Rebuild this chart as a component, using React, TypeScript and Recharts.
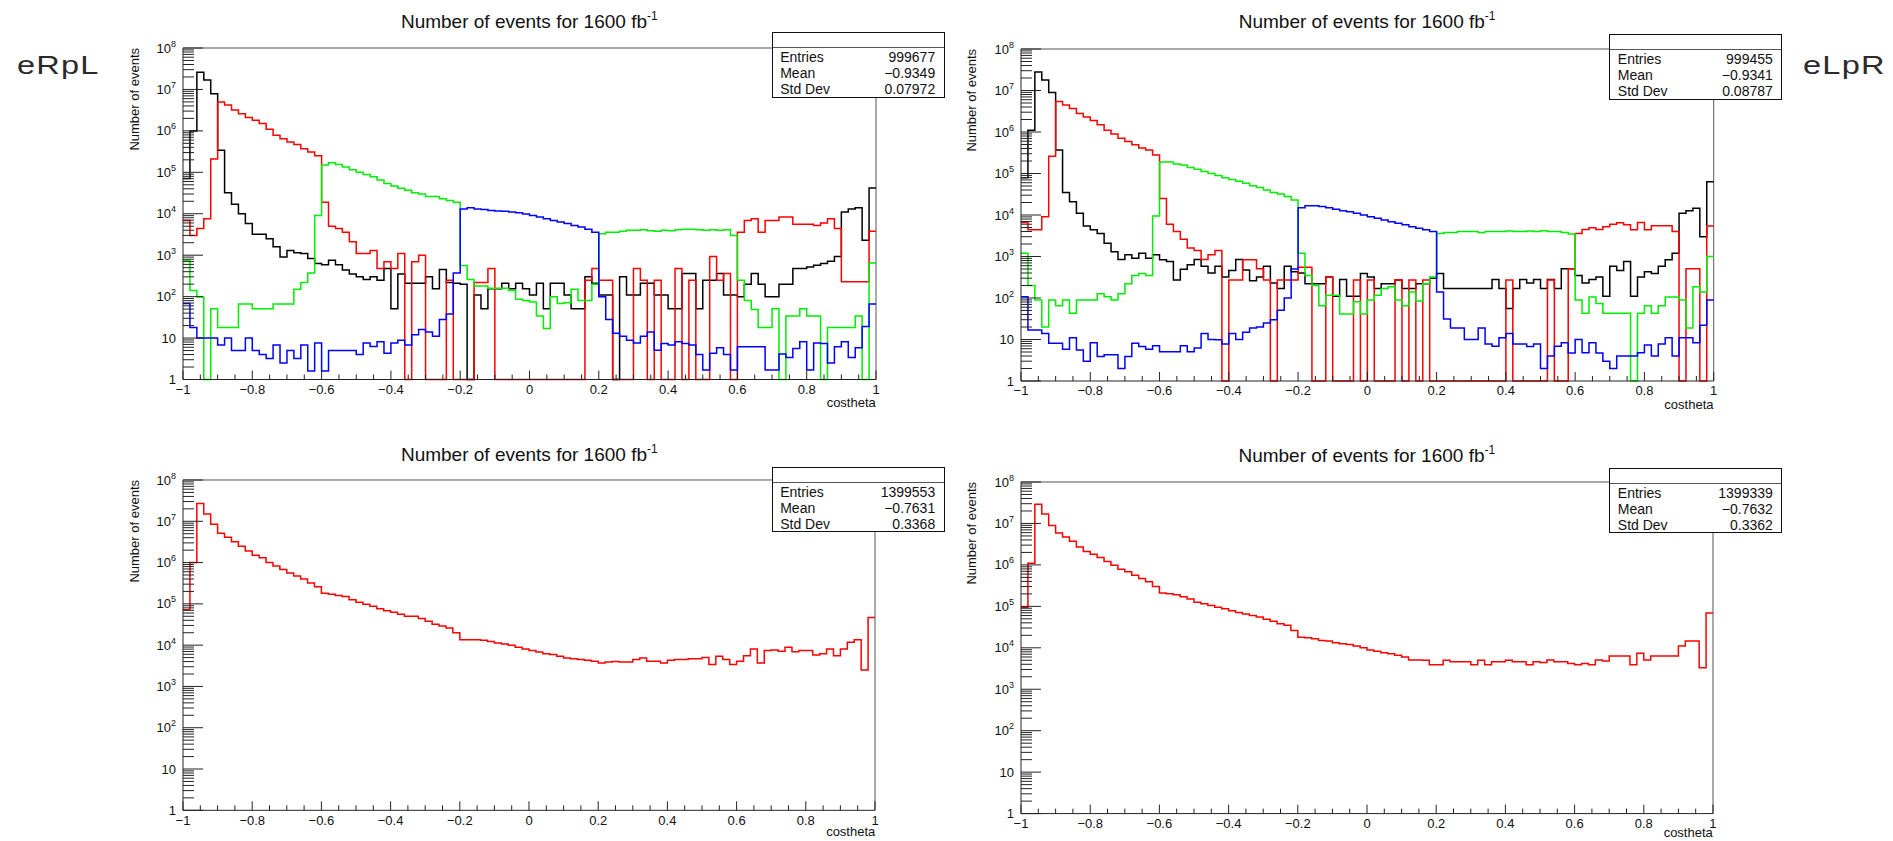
import { LineChart, Line, XAxis, YAxis, ReferenceLine } from "recharts";

// histogram definition: 100 bins on [-1, 1]
const NBINS = 100;
const X_MIN = -1;
const X_MAX = 1;

const xMajorTicks = [-1, -0.8, -0.6, -0.4, -0.2, 0, 0.2, 0.4, 0.6, 0.8, 1];
const yDecades = [0, 1, 2, 3, 4, 5, 6, 7, 8];
const yMinorMantissas = [2, 3, 4, 5, 6, 7, 8, 9];

const titleText = "Number of events for 1600 fb";
const titleSup = "-1";
const yTitle = "Number of events";
const xTitle = "costheta";
const statLabels = ["Entries", "Mean", "Std Dev"];

const tlStats = ["999677", "\u22120.9349", "0.07972"];
const trStats = ["999455", "\u22120.9341", "0.08787"];
const blStats = ["1399553", "\u22120.7631", "0.3368"];
const brStats = ["1399339", "\u22120.7632", "0.3362"];

// eRpL, all processes
const tlBlack = [
  71000, 1000000, 26000000, 17000000, 7900000, 340000, 32000, 17000, 10000, 5800,
  3200, 3200, 2500, 1600, 910, 1300, 1150, 1100, 830, 630,
  590, 760, 590, 440, 350, 300, 260, 300, 250, 480,
  51, 350, 210, 210, 210, 300, 155, 450, 220, 210,
  200, 0, 110, 51, 155, 155, 210, 155, 210, 155,
  110, 210, 51, 210, 210, 110, 51, 51, 300, 210,
  110, 110, 0, 300, 110, 110, 210, 210, 110, 110,
  51, 51, 360, 360, 51, 250, 250, 360, 110, 110,
  100, 200, 360, 200, 100, 100, 200, 200, 480, 480,
  520, 570, 630, 710, 930, 11000, 13000, 14000, 2300, 42000,
];
const tlRed = [
  6900, 3000, 4400, 7600, 210000, 5000000, 4200000, 3200000, 2600000, 2100000,
  1800000, 1500000, 1100000, 780000, 650000, 540000, 470000, 370000, 310000, 250000,
  19000, 5000, 4400, 3600, 2100, 1100, 1100, 1300, 480, 690,
  480, 1100, 0, 690, 1000, 0, 0, 0, 250, 0,
  0, 0, 220, 220, 480, 0, 0, 0, 0, 0,
  0, 0, 0, 0, 0, 0, 0, 0, 250, 480,
  250, 250, 0, 0, 0, 480, 250, 0, 250, 0,
  0, 480, 0, 250, 0, 0, 930, 250, 360, 0,
  3600, 6900, 7600, 3600, 6900, 6900, 8300, 8300, 5600, 5600,
  5600, 5200, 6000, 7600, 4400, 230, 230, 230, 230, 3800,
];
const tlGreen = [
  760, 140, 98, 0, 51, 18, 18, 18, 66, 66,
  51, 51, 51, 66, 66, 66, 150, 220, 370, 9100,
  150000, 170000, 155000, 135000, 115000, 100000, 89000, 78000, 65000, 54000,
  47000, 41000, 37000, 32000, 30000, 26000, 26000, 23000, 21000, 19000,
  560, 260, 180, 180, 160, 160, 160, 140, 87, 81,
  74, 34, 17, 100, 68, 71, 150, 81, 81, 200,
  3300, 3600, 3600, 3800, 4000, 4000, 4100, 3900, 3800, 4000,
  3900, 4100, 4200, 4200, 4100, 4000, 4100, 4000, 4100, 3000,
  250, 81, 49, 18, 18, 51, 0, 34, 34, 51,
  34, 34, 0, 18, 18, 18, 18, 34, 0, 650,
];
const tlBlue = [
  68, 18, 10, 10, 10, 6.8, 10, 5, 5, 10,
  5, 4, 3.2, 6.8, 2.5, 5, 3.2, 6.8, 1.6, 7.6,
  1.6, 5, 5, 5, 5, 4, 7.6, 6.3, 8.1, 4.3,
  7.6, 8.9, 6.8, 12, 16, 14, 11, 28, 38, 370,
  13000, 14000, 13000, 12600, 12000, 11700, 11500, 11000, 10500, 9800,
  9100, 8300, 7600, 6900, 6300, 5800, 5200, 4800, 4200, 3600,
  100, 28, 13, 11, 8.9, 7.6, 11, 14, 5.1, 7.4,
  6.8, 8.1, 7.4, 6.8, 4, 1.7, 4.3, 5.8, 4, 1.7,
  6.2, 6.2, 6.2, 6.2, 1.7, 1.7, 4.1, 3.4, 5.6, 8.1,
  1.7, 7.6, 7.4, 2.5, 6.2, 8.1, 3.4, 5.8, 19, 66,
];

// eLpR, all processes
const trBlack = [
  79000, 1100000, 28000000, 18000000, 8900000, 370000, 35000, 21000, 11000, 5400,
  4400, 3600, 2100, 1300, 850, 1100, 910, 1200, 910, 1100,
  830, 760, 270, 490, 630, 850, 580, 400, 580, 320,
  460, 850, 470, 260, 320, 580, 230, 170, 580, 430,
  400, 220, 220, 220, 320, 110, 280, 110, 110, 390,
  320, 170, 220, 220, 270, 170, 170, 220, 220, 300,
  390, 170, 170, 170, 170, 170, 170, 170, 280, 170,
  56, 170, 280, 230, 280, 170, 280, 170, 510, 510,
  350, 230, 280, 320, 110, 580, 460, 760, 110, 320,
  430, 390, 580, 830, 1200, 11000, 12600, 14500, 3000, 63000,
];
const trRed = [
  6600, 4400, 4400, 9100, 260000, 5400000, 4500000, 3700000, 2800000, 2300000,
  1900000, 1500000, 1100000, 890000, 710000, 590000, 490000, 410000, 370000, 280000,
  25000, 6000, 4000, 2600, 1600, 1400, 850, 1100, 1400, 0,
  270, 270, 830, 830, 510, 270, 0, 270, 270, 270,
  550, 550, 0, 0, 320, 0, 0, 0, 270, 0,
  270, 0, 0, 0, 270, 0, 270, 0, 270, 0,
  0, 0, 0, 0, 0, 0, 0, 0, 0, 0,
  270, 0, 0, 0, 0, 0, 270, 0, 0, 510,
  3600, 4500, 4900, 4500, 5200, 6000, 6500, 5800, 4400, 6600,
  4400, 5500, 5500, 5500, 4000, 0, 510, 510, 0, 5400,
];
const trGreen = [
  1200, 200, 89, 20, 89, 65, 89, 43, 89, 89,
  89, 126, 107, 89, 126, 220, 350, 390, 350, 9500,
  190000, 190000, 170000, 160000, 140000, 126000, 112000, 100000, 89000, 79000,
  72000, 65000, 58000, 51000, 46000, 40000, 35000, 32000, 28000, 23000,
  1200, 350, 200, 65, 117, 117, 41, 41, 81, 41,
  89, 117, 170, 186, 89, 65, 140, 85, 220, 320,
  3600, 3800, 3800, 4000, 4000, 4000, 3800, 4000, 4000, 4000,
  4100, 4000, 4000, 4100, 4000, 4200, 4000, 4000, 3800, 3500,
  89, 43, 105, 74, 43, 43, 43, 43, 0, 43,
  65, 43, 65, 105, 105, 89, 19, 186, 140, 1000,
];
const trBlue = [
  107, 17, 17, 14, 8.1, 8.1, 5.8, 11, 5.6, 3,
  8.3, 3.9, 4.3, 4.3, 2, 3.9, 8.1, 6.8, 5.8, 7.1,
  5.1, 5.1, 5.1, 7.1, 5.1, 6.2, 14, 10, 9.8, 7.8,
  14, 10, 15, 19, 20, 25, 30, 51, 100, 500,
  15000, 16600, 16600, 16000, 15000, 13800, 12600, 12000, 11000, 10000,
  9100, 8300, 7600, 6900, 6300, 5800, 5200, 4800, 4400, 4000,
  140, 31, 19, 19, 10, 10, 19, 7.8, 6.9, 11,
  14, 7.8, 7.8, 6.8, 7.8, 2, 4, 6.9, 8.3, 4.7,
  10, 4.8, 8.3, 4.7, 3, 2, 4, 4, 4, 4.8,
  7.4, 4, 7.8, 11, 4, 11, 11, 8.3, 22, 89,
];

// summed samples
const blRed = [
  72000, 1000000, 27000000, 15000000, 8500000, 5100000, 4100000, 3200000, 2500000, 1900000,
  1500000, 1300000, 1000000, 830000, 680000, 560000, 470000, 400000, 320000, 260000,
  180000, 170000, 160000, 150000, 126000, 110000, 98000, 87000, 76000, 68000,
  63000, 56000, 50000, 50000, 44000, 38000, 32000, 29000, 26000, 20000,
  13500, 13500, 13500, 13200, 12300, 11200, 10700, 10000, 8900, 8100,
  7400, 6800, 6200, 5900, 5400, 4900, 4700, 4500, 4300, 4100,
  3700, 3900, 4000, 3900, 3900, 4500, 4900, 4100, 4100, 3700,
  4300, 4500, 4500, 4700, 4700, 5000, 3400, 5400, 4500, 3400,
  4100, 5500, 8100, 3700, 7400, 7600, 7100, 8900, 6900, 7400,
  7400, 5800, 6200, 8100, 5500, 8100, 11700, 13500, 2500, 47000,
];
const brRed = [
  95000, 1100000, 29000000, 17000000, 8900000, 5900000, 4700000, 3700000, 2700000, 2100000,
  1800000, 1500000, 1200000, 980000, 780000, 680000, 560000, 470000, 390000, 300000,
  210000, 200000, 190000, 170000, 150000, 126000, 115000, 105000, 95000, 87000,
  78000, 71000, 65000, 60000, 55000, 49000, 44000, 38000, 35000, 26000,
  18000, 17400, 16600, 15000, 14500, 13200, 12600, 12000, 11000, 10000,
  8900, 8300, 7600, 7200, 6600, 6000, 5100, 5100, 5000, 3900,
  3900, 5000, 4600, 4600, 4600, 3900, 5000, 3900, 4600, 4600,
  5000, 4600, 4600, 3900, 4600, 4400, 5100, 4600, 4600, 4200,
  3900, 4200, 3900, 5100, 4800, 6300, 6300, 6300, 3900, 7400,
  5100, 6300, 6300, 6300, 6300, 11000, 14500, 14500, 3300, 69000,
];

const FONT = "'Liberation Sans', Arial, Helvetica, sans-serif";
const TEXT = "#111";
const AXIS = "#222";
const FRAME = "#555";

const xTicks: number[] = [];
for (let i = 0; i <= 40; i++) xTicks.push((-100 + 5 * i) / 100);

const yTicks: number[] = [];
yDecades.forEach((d) => {
  yTicks.push(10 ** d);
  if (d < 8) yMinorMantissas.forEach((m) => yTicks.push(m * 10 ** d));
});

// one point per bin edge, last bin repeated so stepAfter closes it;
// empty bins sit on the floor of the log axis like ROOT draws them
function buildRows(series: { key: string; values: number[] }[]) {
  const rows: Record<string, number>[] = [];
  for (let i = 0; i <= NBINS; i++) {
    const row: Record<string, number> = { x: X_MIN + (i * (X_MAX - X_MIN)) / NBINS };
    series.forEach((s) => {
      const v = s.values[Math.min(i, NBINS - 1)];
      row[s.key] = v > 0 ? v : 1;
    });
    rows.push(row);
  }
  return rows;
}

function fmtX(v: number) {
  const r = Math.round(v * 10) / 10;
  if (r === 0) return "0";
  return (r < 0 ? "\u2212" : "") + String(Math.abs(r));
}

function XTick(props: any) {
  const { x, y, payload } = props;
  const v = payload.value;
  const major = xMajorTicks.some((t) => Math.abs(t - v) < 1e-6);
  return (
    <g>
      <line x1={x} x2={x} y1={y} y2={y - (major ? 9 : 5)} stroke={AXIS} strokeWidth={1} />
      {major && (
        <text x={x} y={y + 14.5} textAnchor="middle" fontSize={13} fill={TEXT} fontFamily={FONT}>
          {fmtX(v)}
        </text>
      )}
    </g>
  );
}

function YTick(props: any) {
  const { x, y, payload } = props;
  const lg = Math.log10(payload.value);
  const e = Math.round(lg);
  const major = Math.abs(lg - e) < 1e-9;
  return (
    <g>
      <line x1={x} x2={x + (major ? 20 : 11)} y1={y} y2={y} stroke={AXIS} strokeWidth={1} />
      {major && (
        <text x={x - 7} y={y + 4.6} textAnchor="end" fontSize={13} fill={TEXT} fontFamily={FONT}>
          {e === 0 ? "1" : "10"}
          {e > 1 && (
            <tspan dy={-6} fontSize={9}>
              {e}
            </tspan>
          )}
        </text>
      )}
    </g>
  );
}

type PanelProps = {
  plotLeft: number;
  plotTop: number;
  plotW: number;
  plotH: number;
  series: { key: string; values: number[]; color: string }[];
  stats: string[];
  boxLeft: number;
  boxTop: number;
  boxH: number;
  titleTop: number;
  yTitleLeft: number;
  xTitleTop: number;
};

function Panel(p: PanelProps) {
  const rows = buildRows(p.series);
  const yAxisW = 60;
  const mTop = 10;
  const mRight = 10;
  const xAxisH = 40;
  const plotRight = p.plotLeft + p.plotW;

  return (
    <>
      <div style={{ position: "absolute", left: p.plotLeft - yAxisW, top: p.plotTop - mTop }}>
        <LineChart
          width={yAxisW + p.plotW + mRight}
          height={mTop + p.plotH + xAxisH}
          data={rows}
          margin={{ top: mTop, right: mRight, bottom: 0, left: 0 }}
        >
          <XAxis
            dataKey="x"
            type="number"
            domain={[X_MIN, X_MAX]}
            ticks={xTicks}
            interval={0}
            tickLine={false}
            tickSize={0}
            tickMargin={0}
            axisLine={{ stroke: AXIS, strokeWidth: 1 }}
            tick={XTick}
            height={xAxisH}
          />
          <YAxis
            type="number"
            scale="log"
            domain={[1, 1e8]}
            ticks={yTicks}
            interval={0}
            tickLine={false}
            tickSize={0}
            tickMargin={0}
            axisLine={{ stroke: AXIS, strokeWidth: 1 }}
            tick={YTick}
            width={yAxisW}
          />
          <ReferenceLine y={1e8} stroke={FRAME} strokeWidth={1} />
          <ReferenceLine x={X_MAX} stroke={FRAME} strokeWidth={1} />
          {p.series.map((s) => (
            <Line
              key={s.key}
              dataKey={s.key}
              type="stepAfter"
              stroke={s.color}
              strokeWidth={1.5}
              dot={false}
              activeDot={false}
              isAnimationActive={false}
            />
          ))}
        </LineChart>
      </div>

      <div
        style={{
          position: "absolute",
          left: p.plotLeft,
          width: p.plotW,
          top: p.titleTop,
          textAlign: "center",
          fontSize: 19,
          lineHeight: "22px",
          color: TEXT,
          whiteSpace: "nowrap",
        }}
      >
        {titleText}
        <span style={{ fontSize: 12, position: "relative", top: -8 }}>{titleSup}</span>
      </div>

      <div
        style={{
          position: "absolute",
          left: p.yTitleLeft - 200,
          top: p.plotTop,
          width: 200,
          height: 14,
          lineHeight: "14px",
          fontSize: 13,
          color: TEXT,
          textAlign: "right",
          whiteSpace: "nowrap",
          transform: "rotate(-90deg)",
          transformOrigin: "right top",
        }}
      >
        {yTitle}
      </div>

      <div
        style={{
          position: "absolute",
          left: plotRight - 120,
          width: 120,
          top: p.xTitleTop,
          textAlign: "right",
          fontSize: 13,
          lineHeight: "15px",
          color: TEXT,
        }}
      >
        {xTitle}
      </div>

      <div
        style={{
          position: "absolute",
          left: p.boxLeft,
          top: p.boxTop,
          width: 173,
          height: p.boxH,
          border: "1.5px solid #111",
          background: "#fff",
          boxSizing: "border-box",
          fontSize: 14,
          color: TEXT,
        }}
      >
        <div style={{ height: 14, borderBottom: "1px solid #555" }} />
        <div style={{ padding: "1px 8.5px 0 7.5px" }}>
          {statLabels.map((l, i) => (
            <div
              key={l}
              style={{ display: "flex", justifyContent: "space-between", lineHeight: "16px" }}
            >
              <span>{l}</span>
              <span>{p.stats[i]}</span>
            </div>
          ))}
        </div>
      </div>
    </>
  );
}

// the side labels use a wide geometric face in the original; stretch a sans to match
const sideLabel: React.CSSProperties = {
  position: "absolute",
  fontSize: 26,
  lineHeight: "30px",
  letterSpacing: 1,
  color: "#2a2a2a",
  whiteSpace: "nowrap",
  transform: "scaleX(1.25)",
  transformOrigin: "left top",
};

export default function App() {
  return (
    <div
      style={{
        position: "absolute",
        left: 0,
        top: 0,
        width: 1893,
        height: 841,
        background: "#fff",
        overflow: "hidden",
        fontFamily: FONT,
      }}
    >
      <div style={{ ...sideLabel, left: 17, top: 50 }}>eRpL</div>
      <div style={{ ...sideLabel, left: 1803, top: 50 }}>eLpR</div>

      <Panel
        plotLeft={182.8}
        plotTop={47.8}
        plotW={693}
        plotH={331.5}
        series={[
          { key: "black", values: tlBlack, color: "#000000" },
          { key: "red", values: tlRed, color: "#ff0000" },
          { key: "green", values: tlGreen, color: "#00ee00" },
          { key: "blue", values: tlBlue, color: "#0000ff" },
        ]}
        stats={tlStats}
        boxLeft={771.7}
        boxTop={32.3}
        boxH={66}
        titleTop={11.4}
        yTitleLeft={128}
        xTitleTop={395}
      />
      <Panel
        plotLeft={1020.8}
        plotTop={49}
        plotW={692.7}
        plotH={332}
        series={[
          { key: "black", values: trBlack, color: "#000000" },
          { key: "red", values: trRed, color: "#ff0000" },
          { key: "green", values: trGreen, color: "#00ee00" },
          { key: "blue", values: trBlue, color: "#0000ff" },
        ]}
        stats={trStats}
        boxLeft={1609.3}
        boxTop={34.3}
        boxH={66}
        titleTop={11.4}
        yTitleLeft={965}
        xTitleTop={397}
      />
      <Panel
        plotLeft={183.3}
        plotTop={480.4}
        plotW={692}
        plotH={330.3}
        series={[{ key: "sum", values: blRed, color: "#ff0000" }]}
        stats={blStats}
        boxLeft={771.7}
        boxTop={466.7}
        boxH={65}
        titleTop={444.4}
        yTitleLeft={128}
        xTitleTop={824}
      />
      <Panel
        plotLeft={1020.8}
        plotTop={481.7}
        plotW={692}
        plotH={331.6}
        series={[{ key: "sum", values: brRed, color: "#ff0000" }]}
        stats={brStats}
        boxLeft={1609.3}
        boxTop={467.7}
        boxH={65.6}
        titleTop={445.4}
        yTitleLeft={965}
        xTitleTop={825}
      />
    </div>
  );
}
